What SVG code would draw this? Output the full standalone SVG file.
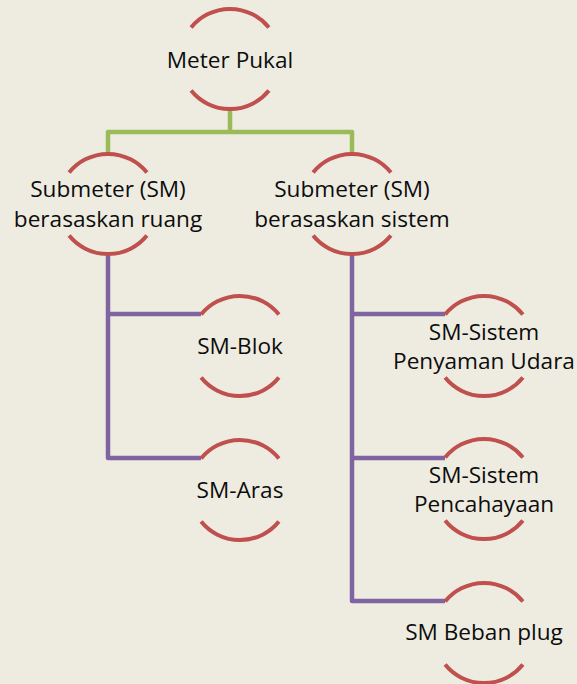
<svg xmlns="http://www.w3.org/2000/svg" xmlns:xlink="http://www.w3.org/1999/xlink" width="577" height="684" viewBox="0 0 577 684">
  <style>
    .bg { fill: #EEECE1; }
    .arc { fill: none; stroke: #C0504D; stroke-width: 4; }
    .lvl1 { fill: none; stroke: #9BBB59; stroke-width: 4.5; stroke-linejoin: round; }
    .lvl2 { fill: none; stroke: #8064A2; stroke-width: 4.5; stroke-linejoin: round; }
    .label { font-family: "Open Sans", "Liberation Sans", sans-serif; font-size: 22.6px; fill: #0D0D0D; text-anchor: middle; }
  </style>
  <defs>
    <!-- open ring: upper and lower arcs of a circle, r = 50 -->
    <g id="ring">
      <path class="arc" d="M-38.9,-31.5 A50,50 0 0 1 38.9,-31.5"/>
      <path class="arc" d="M-38.9,31.5 A50,50 0 0 0 38.9,31.5"/>
    </g>
  </defs>

  <rect class="bg" x="0" y="0" width="577" height="684"/>

  <g id="connectors">
    <path class="lvl1" d="M230,109 V132"/>
    <path class="lvl1" d="M108,154 V132 H352 V154"/>
    <path class="lvl2" d="M108,254 V458 H201"/>
    <path class="lvl2" d="M108,314 H201"/>
    <path class="lvl2" d="M352,254 V601 H445"/>
    <path class="lvl2" d="M352,314 H445"/>
    <path class="lvl2" d="M352,458 H445"/>
  </g>

  <g id="meter-pukal">
    <use xlink:href="#ring" transform="translate(230,59)"/>
    <text class="label" x="230" y="68">Meter Pukal</text>
  </g>

  <g id="sm-ruang">
    <use xlink:href="#ring" transform="translate(108,204)"/>
    <text class="label" x="108" y="197">Submeter (SM)</text>
    <text class="label" x="108" y="227">berasaskan ruang</text>
  </g>

  <g id="sm-sistem">
    <use xlink:href="#ring" transform="translate(352,204)"/>
    <text class="label" x="352" y="197">Submeter (SM)</text>
    <text class="label" x="352" y="227">berasaskan sistem</text>
  </g>

  <g id="sm-blok">
    <use xlink:href="#ring" transform="translate(240,346)"/>
    <text class="label" x="240" y="354">SM-Blok</text>
  </g>

  <g id="sm-aras">
    <use xlink:href="#ring" transform="translate(240,490)"/>
    <text class="label" x="240" y="498">SM-Aras</text>
  </g>

  <g id="sm-penyaman-udara">
    <use xlink:href="#ring" transform="translate(484,346)"/>
    <text class="label" x="484" y="340">SM-Sistem</text>
    <text class="label" x="484" y="369">Penyaman Udara</text>
  </g>

  <g id="sm-pencahayaan">
    <use xlink:href="#ring" transform="translate(484,489)"/>
    <text class="label" x="484" y="483">SM-Sistem</text>
    <text class="label" x="484" y="512">Pencahayaan</text>
  </g>

  <g id="sm-beban-plug">
    <use xlink:href="#ring" transform="translate(484,633)"/>
    <text class="label" x="484" y="640">SM Beban plug</text>
  </g>
</svg>
